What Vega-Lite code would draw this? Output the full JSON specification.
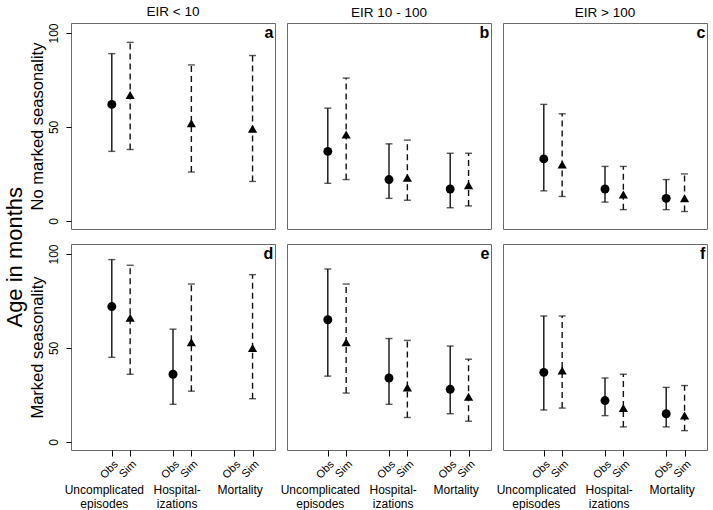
{
 "$schema": "https://vega.github.io/schema/vega-lite/v6.json",
 "padding": {"left": 3, "top": 4, "right": 4, "bottom": 2},
 "background": "white",
 "data": {"values": [
  {"panel":"a","outcome":"Uncomplicated episodes","grp":1,"type":"Obs","mid":62,"lo":37,"hi":89},
  {"panel":"a","outcome":"Uncomplicated episodes","grp":1,"type":"Sim","mid":67,"lo":38,"hi":95},
  {"panel":"a","outcome":"Hospitalizations","grp":2,"type":"Sim","mid":52,"lo":26,"hi":83},
  {"panel":"a","outcome":"Mortality","grp":3,"type":"Sim","mid":49,"lo":21,"hi":88},
  {"panel":"b","outcome":"Uncomplicated episodes","grp":1,"type":"Obs","mid":37,"lo":20,"hi":60},
  {"panel":"b","outcome":"Uncomplicated episodes","grp":1,"type":"Sim","mid":46,"lo":22,"hi":76},
  {"panel":"b","outcome":"Hospitalizations","grp":2,"type":"Obs","mid":22,"lo":12,"hi":41},
  {"panel":"b","outcome":"Hospitalizations","grp":2,"type":"Sim","mid":23,"lo":11,"hi":43},
  {"panel":"b","outcome":"Mortality","grp":3,"type":"Obs","mid":17,"lo":7,"hi":36},
  {"panel":"b","outcome":"Mortality","grp":3,"type":"Sim","mid":19,"lo":8,"hi":36},
  {"panel":"c","outcome":"Uncomplicated episodes","grp":1,"type":"Obs","mid":33,"lo":16,"hi":62},
  {"panel":"c","outcome":"Uncomplicated episodes","grp":1,"type":"Sim","mid":30,"lo":13,"hi":57},
  {"panel":"c","outcome":"Hospitalizations","grp":2,"type":"Obs","mid":17,"lo":10,"hi":29},
  {"panel":"c","outcome":"Hospitalizations","grp":2,"type":"Sim","mid":14,"lo":6,"hi":29},
  {"panel":"c","outcome":"Mortality","grp":3,"type":"Obs","mid":12,"lo":6,"hi":22},
  {"panel":"c","outcome":"Mortality","grp":3,"type":"Sim","mid":12,"lo":5,"hi":25},
  {"panel":"d","outcome":"Uncomplicated episodes","grp":1,"type":"Obs","mid":72,"lo":45,"hi":97},
  {"panel":"d","outcome":"Uncomplicated episodes","grp":1,"type":"Sim","mid":66,"lo":36,"hi":94},
  {"panel":"d","outcome":"Hospitalizations","grp":2,"type":"Obs","mid":36,"lo":20,"hi":60},
  {"panel":"d","outcome":"Hospitalizations","grp":2,"type":"Sim","mid":53,"lo":27,"hi":84},
  {"panel":"d","outcome":"Mortality","grp":3,"type":"Sim","mid":50,"lo":23,"hi":89},
  {"panel":"e","outcome":"Uncomplicated episodes","grp":1,"type":"Obs","mid":65,"lo":35,"hi":92},
  {"panel":"e","outcome":"Uncomplicated episodes","grp":1,"type":"Sim","mid":53,"lo":26,"hi":84},
  {"panel":"e","outcome":"Hospitalizations","grp":2,"type":"Obs","mid":34,"lo":20,"hi":55},
  {"panel":"e","outcome":"Hospitalizations","grp":2,"type":"Sim","mid":29,"lo":13,"hi":54},
  {"panel":"e","outcome":"Mortality","grp":3,"type":"Obs","mid":28,"lo":15,"hi":51},
  {"panel":"e","outcome":"Mortality","grp":3,"type":"Sim","mid":24,"lo":11,"hi":44},
  {"panel":"f","outcome":"Uncomplicated episodes","grp":1,"type":"Obs","mid":37,"lo":17,"hi":67},
  {"panel":"f","outcome":"Uncomplicated episodes","grp":1,"type":"Sim","mid":38,"lo":18,"hi":67},
  {"panel":"f","outcome":"Hospitalizations","grp":2,"type":"Obs","mid":22,"lo":14,"hi":34},
  {"panel":"f","outcome":"Hospitalizations","grp":2,"type":"Sim","mid":18,"lo":8,"hi":36},
  {"panel":"f","outcome":"Mortality","grp":3,"type":"Obs","mid":15,"lo":8,"hi":29},
  {"panel":"f","outcome":"Mortality","grp":3,"type":"Sim","mid":14,"lo":6,"hi":30}
 ]},
 "title": {"text": "Age in months", "orient": "left", "anchor": "middle", "fontSize": 22, "fontWeight": "normal", "font": "Liberation Sans", "offset": 2},
 "config": {
  "view": {"stroke": "#6a6a6a", "strokeWidth": 1},
  "axis": {"labelFont": "Liberation Sans", "titleFont": "Liberation Sans", "domain": false, "grid": false, "tickColor": "#000", "labelColor": "#000", "titleColor": "#000", "titleFontWeight": "normal"},
  "title": {"font": "Liberation Sans", "fontSize": 13.5, "fontWeight": "normal", "color": "#000", "offset": 4}
 },
 "spacing": 13,
 "vconcat": [
  {"spacing": 12, "bounds": "flush", "hconcat": [
   {"width": 204, "height": 206, "title": "EIR < 10",
    "layer": [
     {"transform": [{"filter": "datum.panel == 'a' && datum.type == 'Obs'"}], "mark": {"type": "rule", "strokeWidth": 1.4, "color": "#111"},
      "encoding": {"x": {"field": "grp", "type": "quantitative", "axis": null}, "y": {"field": "lo", "type": "quantitative", "axis": {"title": "No marked seasonality", "titleFontSize": 16.5, "titlePadding": 2, "values": [0, 50, 100], "labelAngle": 270, "labelFontSize": 12, "tickSize": 5, "labelPadding": 6}}, "y2": {"field": "hi"}}},
     {"transform": [{"filter": "datum.panel == 'a' && datum.type == 'Obs'"}], "mark": {"type": "tick", "orient": "horizontal", "size": 7, "thickness": 1.4, "color": "#111"}, "encoding": {"x": {"field": "grp", "type": "quantitative", "axis": null}, "y": {"field": "lo", "type": "quantitative", "axis": {"title": "No marked seasonality", "titleFontSize": 16.5, "titlePadding": 2, "values": [0, 50, 100], "labelAngle": 270, "labelFontSize": 12, "tickSize": 5, "labelPadding": 6}}}},
     {"transform": [{"filter": "datum.panel == 'a' && datum.type == 'Obs'"}], "mark": {"type": "tick", "orient": "horizontal", "size": 7, "thickness": 1.4, "color": "#111"}, "encoding": {"x": {"field": "grp", "type": "quantitative", "axis": null}, "y": {"field": "hi", "type": "quantitative", "axis": {"title": "No marked seasonality", "titleFontSize": 16.5, "titlePadding": 2, "values": [0, 50, 100], "labelAngle": 270, "labelFontSize": 12, "tickSize": 5, "labelPadding": 6}}}},
     {"transform": [{"filter": "datum.panel == 'a' && datum.type == 'Obs'"}], "mark": {"type": "point", "shape": "circle", "filled": true, "size": 80, "color": "#000", "opacity": 1}, "encoding": {"x": {"field": "grp", "type": "quantitative", "axis": null}, "y": {"field": "mid", "type": "quantitative", "axis": {"title": "No marked seasonality", "titleFontSize": 16.5, "titlePadding": 2, "values": [0, 50, 100], "labelAngle": 270, "labelFontSize": 12, "tickSize": 5, "labelPadding": 6}}}},
     {"transform": [{"filter": "datum.panel == 'a' && datum.type == 'Sim'"}], "mark": {"type": "rule", "strokeWidth": 1.4, "color": "#111", "strokeDash": [6, 4], "xOffset": 18.36},
      "encoding": {"x": {"field": "grp", "type": "quantitative", "scale": {"domain": [0.3333, 3.6667], "nice": false, "zero": false}, "axis": null}, "y": {"field": "lo", "type": "quantitative", "scale": {"domain": [-4.3, 105.3], "nice": false, "zero": false}, "axis": {"title": "No marked seasonality", "titleFontSize": 16.5, "titlePadding": 2, "values": [0, 50, 100], "labelAngle": 270, "labelFontSize": 12, "tickSize": 5, "labelPadding": 6}}, "y2": {"field": "hi"}}},
     {"transform": [{"filter": "datum.panel == 'a' && datum.type == 'Sim'"}], "mark": {"type": "tick", "orient": "horizontal", "size": 7, "thickness": 1.4, "color": "#111", "xOffset": 18.36}, "encoding": {"x": {"field": "grp", "type": "quantitative", "axis": null}, "y": {"field": "lo", "type": "quantitative", "axis": {"title": "No marked seasonality", "titleFontSize": 16.5, "titlePadding": 2, "values": [0, 50, 100], "labelAngle": 270, "labelFontSize": 12, "tickSize": 5, "labelPadding": 6}}}},
     {"transform": [{"filter": "datum.panel == 'a' && datum.type == 'Sim'"}], "mark": {"type": "tick", "orient": "horizontal", "size": 7, "thickness": 1.4, "color": "#111", "xOffset": 18.36}, "encoding": {"x": {"field": "grp", "type": "quantitative", "axis": null}, "y": {"field": "hi", "type": "quantitative", "axis": {"title": "No marked seasonality", "titleFontSize": 16.5, "titlePadding": 2, "values": [0, 50, 100], "labelAngle": 270, "labelFontSize": 12, "tickSize": 5, "labelPadding": 6}}}},
     {"transform": [{"filter": "datum.panel == 'a' && datum.type == 'Sim'"}], "mark": {"type": "point", "shape": "triangle-up", "filled": true, "size": 85, "color": "#000", "opacity": 1, "xOffset": 18.36}, "encoding": {"x": {"field": "grp", "type": "quantitative", "axis": null}, "y": {"field": "mid", "type": "quantitative", "axis": {"title": "No marked seasonality", "titleFontSize": 16.5, "titlePadding": 2, "values": [0, 50, 100], "labelAngle": 270, "labelFontSize": 12, "tickSize": 5, "labelPadding": 6}}}},
     {"data": {"values": [{"letter": "a"}]}, "mark": {"type": "text", "align": "right", "baseline": "middle", "fontSize": 16, "fontWeight": "bold", "font": "Liberation Sans", "color": "#000"},
      "encoding": {"x": {"datum": 3.64, "type": "quantitative", "axis": null},
                   "y": {"datum": 100, "type": "quantitative", "axis": {"title": "No marked seasonality", "titleFontSize": 16.5, "titlePadding": 2, "values": [0, 50, 100], "labelAngle": 270, "labelFontSize": 12, "tickSize": 5, "labelPadding": 6}},
                   "text": {"field": "letter"}}}
    ]},
   {"width": 204, "height": 206, "title": "EIR 10 - 100",
    "layer": [
     {"transform": [{"filter": "datum.panel == 'b' && datum.type == 'Obs'"}], "mark": {"type": "rule", "strokeWidth": 1.4, "color": "#111"},
      "encoding": {"x": {"field": "grp", "type": "quantitative", "axis": null}, "y": {"field": "lo", "type": "quantitative", "axis": null}, "y2": {"field": "hi"}}},
     {"transform": [{"filter": "datum.panel == 'b' && datum.type == 'Obs'"}], "mark": {"type": "tick", "orient": "horizontal", "size": 7, "thickness": 1.4, "color": "#111"}, "encoding": {"x": {"field": "grp", "type": "quantitative", "axis": null}, "y": {"field": "lo", "type": "quantitative", "axis": null}}},
     {"transform": [{"filter": "datum.panel == 'b' && datum.type == 'Obs'"}], "mark": {"type": "tick", "orient": "horizontal", "size": 7, "thickness": 1.4, "color": "#111"}, "encoding": {"x": {"field": "grp", "type": "quantitative", "axis": null}, "y": {"field": "hi", "type": "quantitative", "axis": null}}},
     {"transform": [{"filter": "datum.panel == 'b' && datum.type == 'Obs'"}], "mark": {"type": "point", "shape": "circle", "filled": true, "size": 80, "color": "#000", "opacity": 1}, "encoding": {"x": {"field": "grp", "type": "quantitative", "axis": null}, "y": {"field": "mid", "type": "quantitative", "axis": null}}},
     {"transform": [{"filter": "datum.panel == 'b' && datum.type == 'Sim'"}], "mark": {"type": "rule", "strokeWidth": 1.4, "color": "#111", "strokeDash": [6, 4], "xOffset": 18.36},
      "encoding": {"x": {"field": "grp", "type": "quantitative", "scale": {"domain": [0.3333, 3.6667], "nice": false, "zero": false}, "axis": null}, "y": {"field": "lo", "type": "quantitative", "scale": {"domain": [-4.3, 105.3], "nice": false, "zero": false}, "axis": null}, "y2": {"field": "hi"}}},
     {"transform": [{"filter": "datum.panel == 'b' && datum.type == 'Sim'"}], "mark": {"type": "tick", "orient": "horizontal", "size": 7, "thickness": 1.4, "color": "#111", "xOffset": 18.36}, "encoding": {"x": {"field": "grp", "type": "quantitative", "axis": null}, "y": {"field": "lo", "type": "quantitative", "axis": null}}},
     {"transform": [{"filter": "datum.panel == 'b' && datum.type == 'Sim'"}], "mark": {"type": "tick", "orient": "horizontal", "size": 7, "thickness": 1.4, "color": "#111", "xOffset": 18.36}, "encoding": {"x": {"field": "grp", "type": "quantitative", "axis": null}, "y": {"field": "hi", "type": "quantitative", "axis": null}}},
     {"transform": [{"filter": "datum.panel == 'b' && datum.type == 'Sim'"}], "mark": {"type": "point", "shape": "triangle-up", "filled": true, "size": 85, "color": "#000", "opacity": 1, "xOffset": 18.36}, "encoding": {"x": {"field": "grp", "type": "quantitative", "axis": null}, "y": {"field": "mid", "type": "quantitative", "axis": null}}},
     {"data": {"values": [{"letter": "b"}]}, "mark": {"type": "text", "align": "right", "baseline": "middle", "fontSize": 16, "fontWeight": "bold", "font": "Liberation Sans", "color": "#000"},
      "encoding": {"x": {"datum": 3.64, "type": "quantitative", "axis": null}, "y": {"datum": 100, "type": "quantitative", "axis": null}, "text": {"field": "letter"}}}
    ]},
   {"width": 204, "height": 206, "title": "EIR > 100",
    "layer": [
     {"transform": [{"filter": "datum.panel == 'c' && datum.type == 'Obs'"}], "mark": {"type": "rule", "strokeWidth": 1.4, "color": "#111"},
      "encoding": {"x": {"field": "grp", "type": "quantitative", "axis": null}, "y": {"field": "lo", "type": "quantitative", "axis": null}, "y2": {"field": "hi"}}},
     {"transform": [{"filter": "datum.panel == 'c' && datum.type == 'Obs'"}], "mark": {"type": "tick", "orient": "horizontal", "size": 7, "thickness": 1.4, "color": "#111"}, "encoding": {"x": {"field": "grp", "type": "quantitative", "axis": null}, "y": {"field": "lo", "type": "quantitative", "axis": null}}},
     {"transform": [{"filter": "datum.panel == 'c' && datum.type == 'Obs'"}], "mark": {"type": "tick", "orient": "horizontal", "size": 7, "thickness": 1.4, "color": "#111"}, "encoding": {"x": {"field": "grp", "type": "quantitative", "axis": null}, "y": {"field": "hi", "type": "quantitative", "axis": null}}},
     {"transform": [{"filter": "datum.panel == 'c' && datum.type == 'Obs'"}], "mark": {"type": "point", "shape": "circle", "filled": true, "size": 80, "color": "#000", "opacity": 1}, "encoding": {"x": {"field": "grp", "type": "quantitative", "axis": null}, "y": {"field": "mid", "type": "quantitative", "axis": null}}},
     {"transform": [{"filter": "datum.panel == 'c' && datum.type == 'Sim'"}], "mark": {"type": "rule", "strokeWidth": 1.4, "color": "#111", "strokeDash": [6, 4], "xOffset": 18.36},
      "encoding": {"x": {"field": "grp", "type": "quantitative", "scale": {"domain": [0.3333, 3.6667], "nice": false, "zero": false}, "axis": null}, "y": {"field": "lo", "type": "quantitative", "scale": {"domain": [-4.3, 105.3], "nice": false, "zero": false}, "axis": null}, "y2": {"field": "hi"}}},
     {"transform": [{"filter": "datum.panel == 'c' && datum.type == 'Sim'"}], "mark": {"type": "tick", "orient": "horizontal", "size": 7, "thickness": 1.4, "color": "#111", "xOffset": 18.36}, "encoding": {"x": {"field": "grp", "type": "quantitative", "axis": null}, "y": {"field": "lo", "type": "quantitative", "axis": null}}},
     {"transform": [{"filter": "datum.panel == 'c' && datum.type == 'Sim'"}], "mark": {"type": "tick", "orient": "horizontal", "size": 7, "thickness": 1.4, "color": "#111", "xOffset": 18.36}, "encoding": {"x": {"field": "grp", "type": "quantitative", "axis": null}, "y": {"field": "hi", "type": "quantitative", "axis": null}}},
     {"transform": [{"filter": "datum.panel == 'c' && datum.type == 'Sim'"}], "mark": {"type": "point", "shape": "triangle-up", "filled": true, "size": 85, "color": "#000", "opacity": 1, "xOffset": 18.36}, "encoding": {"x": {"field": "grp", "type": "quantitative", "axis": null}, "y": {"field": "mid", "type": "quantitative", "axis": null}}},
     {"data": {"values": [{"letter": "c"}]}, "mark": {"type": "text", "align": "right", "baseline": "middle", "fontSize": 16, "fontWeight": "bold", "font": "Liberation Sans", "color": "#000"},
      "encoding": {"x": {"datum": 3.64, "type": "quantitative", "axis": null}, "y": {"datum": 100, "type": "quantitative", "axis": null}, "text": {"field": "letter"}}}
    ]}
  ]},
  {"spacing": 12, "bounds": "flush", "hconcat": [
   {"width": 204, "height": 206,
    "resolve": {"axis": {"x": "independent"}},
    "layer": [
     {"transform": [{"filter": "datum.panel == 'd' && datum.type == 'Obs'"}], "mark": {"type": "rule", "strokeWidth": 1.4, "color": "#111"},
      "encoding": {"x": {"field": "grp", "type": "quantitative", "axis": {"orient": "bottom", "title": null, "values": [1, 1.3, 2, 2.3, 3, 3.3], "labelExpr": "datum.value - floor(datum.value) > 0.15 ? 'Sim' : 'Obs'", "labelAngle": -45, "labelFontSize": 11, "ticks": true, "tickSize": 6, "labelPadding": 2, "labelOverlap": false, "labelFlush": false}},
                   "y": {"field": "lo", "type": "quantitative", "axis": {"title": "Marked seasonality", "titleFontSize": 16.5, "titlePadding": 2, "values": [0, 50, 100], "labelAngle": 270, "labelFontSize": 12, "tickSize": 5, "labelPadding": 6}}, "y2": {"field": "hi"}}},
     {"transform": [{"filter": "datum.panel == 'd' && datum.type == 'Obs'"}], "mark": {"type": "tick", "orient": "horizontal", "size": 7, "thickness": 1.4, "color": "#111"}, "encoding": {"x": {"field": "grp", "type": "quantitative", "axis": null}, "y": {"field": "lo", "type": "quantitative", "axis": {"title": "Marked seasonality", "titleFontSize": 16.5, "titlePadding": 2, "values": [0, 50, 100], "labelAngle": 270, "labelFontSize": 12, "tickSize": 5, "labelPadding": 6}}}},
     {"transform": [{"filter": "datum.panel == 'd' && datum.type == 'Obs'"}], "mark": {"type": "tick", "orient": "horizontal", "size": 7, "thickness": 1.4, "color": "#111"}, "encoding": {"x": {"field": "grp", "type": "quantitative", "axis": null}, "y": {"field": "hi", "type": "quantitative", "axis": {"title": "Marked seasonality", "titleFontSize": 16.5, "titlePadding": 2, "values": [0, 50, 100], "labelAngle": 270, "labelFontSize": 12, "tickSize": 5, "labelPadding": 6}}}},
     {"transform": [{"filter": "datum.panel == 'd' && datum.type == 'Obs'"}], "mark": {"type": "point", "shape": "circle", "filled": true, "size": 80, "color": "#000", "opacity": 1}, "encoding": {"x": {"field": "grp", "type": "quantitative", "axis": null}, "y": {"field": "mid", "type": "quantitative", "axis": {"title": "Marked seasonality", "titleFontSize": 16.5, "titlePadding": 2, "values": [0, 50, 100], "labelAngle": 270, "labelFontSize": 12, "tickSize": 5, "labelPadding": 6}}}},
     {"transform": [{"filter": "datum.panel == 'd' && datum.type == 'Sim'"}], "mark": {"type": "rule", "strokeWidth": 1.4, "color": "#111", "strokeDash": [6, 4], "xOffset": 18.36},
      "encoding": {"x": {"field": "grp", "type": "quantitative", "scale": {"domain": [0.3333, 3.6667], "nice": false, "zero": false}, "axis": null}, "y": {"field": "lo", "type": "quantitative", "scale": {"domain": [-4.3, 105.3], "nice": false, "zero": false}, "axis": {"title": "Marked seasonality", "titleFontSize": 16.5, "titlePadding": 2, "values": [0, 50, 100], "labelAngle": 270, "labelFontSize": 12, "tickSize": 5, "labelPadding": 6}}, "y2": {"field": "hi"}}},
     {"transform": [{"filter": "datum.panel == 'd' && datum.type == 'Sim'"}], "mark": {"type": "tick", "orient": "horizontal", "size": 7, "thickness": 1.4, "color": "#111", "xOffset": 18.36}, "encoding": {"x": {"field": "grp", "type": "quantitative", "axis": null}, "y": {"field": "lo", "type": "quantitative", "axis": {"title": "Marked seasonality", "titleFontSize": 16.5, "titlePadding": 2, "values": [0, 50, 100], "labelAngle": 270, "labelFontSize": 12, "tickSize": 5, "labelPadding": 6}}}},
     {"transform": [{"filter": "datum.panel == 'd' && datum.type == 'Sim'"}], "mark": {"type": "tick", "orient": "horizontal", "size": 7, "thickness": 1.4, "color": "#111", "xOffset": 18.36}, "encoding": {"x": {"field": "grp", "type": "quantitative", "axis": null}, "y": {"field": "hi", "type": "quantitative", "axis": {"title": "Marked seasonality", "titleFontSize": 16.5, "titlePadding": 2, "values": [0, 50, 100], "labelAngle": 270, "labelFontSize": 12, "tickSize": 5, "labelPadding": 6}}}},
     {"transform": [{"filter": "datum.panel == 'd' && datum.type == 'Sim'"}], "mark": {"type": "point", "shape": "triangle-up", "filled": true, "size": 85, "color": "#000", "opacity": 1, "xOffset": 18.36}, "encoding": {"x": {"field": "grp", "type": "quantitative", "axis": null}, "y": {"field": "mid", "type": "quantitative", "axis": {"title": "Marked seasonality", "titleFontSize": 16.5, "titlePadding": 2, "values": [0, 50, 100], "labelAngle": 270, "labelFontSize": 12, "tickSize": 5, "labelPadding": 6}}}},
     {"data": {"values": [{"letter": "d"}]}, "mark": {"type": "text", "align": "right", "baseline": "middle", "fontSize": 16, "fontWeight": "bold", "font": "Liberation Sans", "color": "#000"},
      "encoding": {"x": {"datum": 3.64, "type": "quantitative", "axis": {"orient": "bottom", "title": null, "values": [0.87, 2.06, 3.09], "labelExpr": "datum.value < 1.5 ? ['Uncomplicated', 'episodes'] : datum.value < 2.5 ? ['Hospital-', 'izations'] : 'Mortality'", "labelAngle": 0, "ticks": false, "labelPadding": 34, "labelFontSize": 12, "labelLineHeight": 14, "labelOverlap": false, "labelFlush": false, "labelBaseline": "top", "labelAlign": "center"}},
                   "y": {"datum": 100, "type": "quantitative", "axis": {"title": "Marked seasonality", "titleFontSize": 16.5, "titlePadding": 2, "values": [0, 50, 100], "labelAngle": 270, "labelFontSize": 12, "tickSize": 5, "labelPadding": 6}},
                   "text": {"field": "letter"}}}
    ]},
   {"width": 204, "height": 206,
    "resolve": {"axis": {"x": "independent"}},
    "layer": [
     {"transform": [{"filter": "datum.panel == 'e' && datum.type == 'Obs'"}], "mark": {"type": "rule", "strokeWidth": 1.4, "color": "#111"},
      "encoding": {"x": {"field": "grp", "type": "quantitative", "axis": {"orient": "bottom", "title": null, "values": [1, 1.3, 2, 2.3, 3, 3.3], "labelExpr": "datum.value - floor(datum.value) > 0.15 ? 'Sim' : 'Obs'", "labelAngle": -45, "labelFontSize": 11, "ticks": true, "tickSize": 6, "labelPadding": 2, "labelOverlap": false, "labelFlush": false}},
                   "y": {"field": "lo", "type": "quantitative", "axis": null}, "y2": {"field": "hi"}}},
     {"transform": [{"filter": "datum.panel == 'e' && datum.type == 'Obs'"}], "mark": {"type": "tick", "orient": "horizontal", "size": 7, "thickness": 1.4, "color": "#111"}, "encoding": {"x": {"field": "grp", "type": "quantitative", "axis": null}, "y": {"field": "lo", "type": "quantitative", "axis": null}}},
     {"transform": [{"filter": "datum.panel == 'e' && datum.type == 'Obs'"}], "mark": {"type": "tick", "orient": "horizontal", "size": 7, "thickness": 1.4, "color": "#111"}, "encoding": {"x": {"field": "grp", "type": "quantitative", "axis": null}, "y": {"field": "hi", "type": "quantitative", "axis": null}}},
     {"transform": [{"filter": "datum.panel == 'e' && datum.type == 'Obs'"}], "mark": {"type": "point", "shape": "circle", "filled": true, "size": 80, "color": "#000", "opacity": 1}, "encoding": {"x": {"field": "grp", "type": "quantitative", "axis": null}, "y": {"field": "mid", "type": "quantitative", "axis": null}}},
     {"transform": [{"filter": "datum.panel == 'e' && datum.type == 'Sim'"}], "mark": {"type": "rule", "strokeWidth": 1.4, "color": "#111", "strokeDash": [6, 4], "xOffset": 18.36},
      "encoding": {"x": {"field": "grp", "type": "quantitative", "scale": {"domain": [0.3333, 3.6667], "nice": false, "zero": false}, "axis": null}, "y": {"field": "lo", "type": "quantitative", "scale": {"domain": [-4.3, 105.3], "nice": false, "zero": false}, "axis": null}, "y2": {"field": "hi"}}},
     {"transform": [{"filter": "datum.panel == 'e' && datum.type == 'Sim'"}], "mark": {"type": "tick", "orient": "horizontal", "size": 7, "thickness": 1.4, "color": "#111", "xOffset": 18.36}, "encoding": {"x": {"field": "grp", "type": "quantitative", "axis": null}, "y": {"field": "lo", "type": "quantitative", "axis": null}}},
     {"transform": [{"filter": "datum.panel == 'e' && datum.type == 'Sim'"}], "mark": {"type": "tick", "orient": "horizontal", "size": 7, "thickness": 1.4, "color": "#111", "xOffset": 18.36}, "encoding": {"x": {"field": "grp", "type": "quantitative", "axis": null}, "y": {"field": "hi", "type": "quantitative", "axis": null}}},
     {"transform": [{"filter": "datum.panel == 'e' && datum.type == 'Sim'"}], "mark": {"type": "point", "shape": "triangle-up", "filled": true, "size": 85, "color": "#000", "opacity": 1, "xOffset": 18.36}, "encoding": {"x": {"field": "grp", "type": "quantitative", "axis": null}, "y": {"field": "mid", "type": "quantitative", "axis": null}}},
     {"data": {"values": [{"letter": "e"}]}, "mark": {"type": "text", "align": "right", "baseline": "middle", "fontSize": 16, "fontWeight": "bold", "font": "Liberation Sans", "color": "#000"},
      "encoding": {"x": {"datum": 3.64, "type": "quantitative", "axis": {"orient": "bottom", "title": null, "values": [0.87, 2.06, 3.09], "labelExpr": "datum.value < 1.5 ? ['Uncomplicated', 'episodes'] : datum.value < 2.5 ? ['Hospital-', 'izations'] : 'Mortality'", "labelAngle": 0, "ticks": false, "labelPadding": 34, "labelFontSize": 12, "labelLineHeight": 14, "labelOverlap": false, "labelFlush": false, "labelBaseline": "top", "labelAlign": "center"}},
                   "y": {"datum": 100, "type": "quantitative", "axis": null}, "text": {"field": "letter"}}}
    ]},
   {"width": 204, "height": 206,
    "resolve": {"axis": {"x": "independent"}},
    "layer": [
     {"transform": [{"filter": "datum.panel == 'f' && datum.type == 'Obs'"}], "mark": {"type": "rule", "strokeWidth": 1.4, "color": "#111"},
      "encoding": {"x": {"field": "grp", "type": "quantitative", "axis": {"orient": "bottom", "title": null, "values": [1, 1.3, 2, 2.3, 3, 3.3], "labelExpr": "datum.value - floor(datum.value) > 0.15 ? 'Sim' : 'Obs'", "labelAngle": -45, "labelFontSize": 11, "ticks": true, "tickSize": 6, "labelPadding": 2, "labelOverlap": false, "labelFlush": false}},
                   "y": {"field": "lo", "type": "quantitative", "axis": null}, "y2": {"field": "hi"}}},
     {"transform": [{"filter": "datum.panel == 'f' && datum.type == 'Obs'"}], "mark": {"type": "tick", "orient": "horizontal", "size": 7, "thickness": 1.4, "color": "#111"}, "encoding": {"x": {"field": "grp", "type": "quantitative", "axis": null}, "y": {"field": "lo", "type": "quantitative", "axis": null}}},
     {"transform": [{"filter": "datum.panel == 'f' && datum.type == 'Obs'"}], "mark": {"type": "tick", "orient": "horizontal", "size": 7, "thickness": 1.4, "color": "#111"}, "encoding": {"x": {"field": "grp", "type": "quantitative", "axis": null}, "y": {"field": "hi", "type": "quantitative", "axis": null}}},
     {"transform": [{"filter": "datum.panel == 'f' && datum.type == 'Obs'"}], "mark": {"type": "point", "shape": "circle", "filled": true, "size": 80, "color": "#000", "opacity": 1}, "encoding": {"x": {"field": "grp", "type": "quantitative", "axis": null}, "y": {"field": "mid", "type": "quantitative", "axis": null}}},
     {"transform": [{"filter": "datum.panel == 'f' && datum.type == 'Sim'"}], "mark": {"type": "rule", "strokeWidth": 1.4, "color": "#111", "strokeDash": [6, 4], "xOffset": 18.36},
      "encoding": {"x": {"field": "grp", "type": "quantitative", "scale": {"domain": [0.3333, 3.6667], "nice": false, "zero": false}, "axis": null}, "y": {"field": "lo", "type": "quantitative", "scale": {"domain": [-4.3, 105.3], "nice": false, "zero": false}, "axis": null}, "y2": {"field": "hi"}}},
     {"transform": [{"filter": "datum.panel == 'f' && datum.type == 'Sim'"}], "mark": {"type": "tick", "orient": "horizontal", "size": 7, "thickness": 1.4, "color": "#111", "xOffset": 18.36}, "encoding": {"x": {"field": "grp", "type": "quantitative", "axis": null}, "y": {"field": "lo", "type": "quantitative", "axis": null}}},
     {"transform": [{"filter": "datum.panel == 'f' && datum.type == 'Sim'"}], "mark": {"type": "tick", "orient": "horizontal", "size": 7, "thickness": 1.4, "color": "#111", "xOffset": 18.36}, "encoding": {"x": {"field": "grp", "type": "quantitative", "axis": null}, "y": {"field": "hi", "type": "quantitative", "axis": null}}},
     {"transform": [{"filter": "datum.panel == 'f' && datum.type == 'Sim'"}], "mark": {"type": "point", "shape": "triangle-up", "filled": true, "size": 85, "color": "#000", "opacity": 1, "xOffset": 18.36}, "encoding": {"x": {"field": "grp", "type": "quantitative", "axis": null}, "y": {"field": "mid", "type": "quantitative", "axis": null}}},
     {"data": {"values": [{"letter": "f"}]}, "mark": {"type": "text", "align": "right", "baseline": "middle", "fontSize": 16, "fontWeight": "bold", "font": "Liberation Sans", "color": "#000"},
      "encoding": {"x": {"datum": 3.64, "type": "quantitative", "axis": {"orient": "bottom", "title": null, "values": [0.87, 2.06, 3.09], "labelExpr": "datum.value < 1.5 ? ['Uncomplicated', 'episodes'] : datum.value < 2.5 ? ['Hospital-', 'izations'] : 'Mortality'", "labelAngle": 0, "ticks": false, "labelPadding": 34, "labelFontSize": 12, "labelLineHeight": 14, "labelOverlap": false, "labelFlush": false, "labelBaseline": "top", "labelAlign": "center"}},
                   "y": {"datum": 100, "type": "quantitative", "axis": null}, "text": {"field": "letter"}}}
    ]}
  ]}
 ]
}
